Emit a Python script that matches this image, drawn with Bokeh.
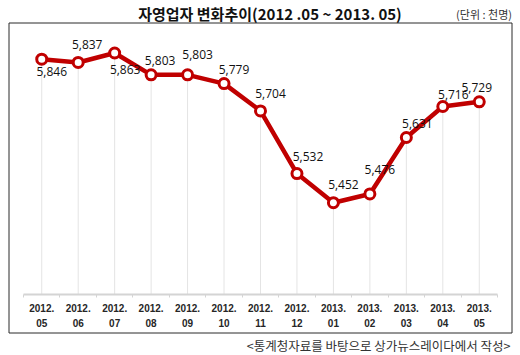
from bokeh.plotting import figure
from bokeh.models import Range1d, FixedTicker, Label, ColumnDataSource
from bokeh.core.properties import value
from bokeh.embed import file_html
from bokeh.resources import INLINE

# ---- data ----
months = ["2012.\n05", "2012.\n06", "2012.\n07", "2012.\n08", "2012.\n09", "2012.\n10",
          "2012.\n11", "2012.\n12", "2013.\n01", "2013.\n02", "2013.\n03", "2013.\n04", "2013.\n05"]
workers = [5846, 5837, 5863, 5803, 5803, 5779, 5704, 5532, 5452, 5476, 5631, 5716, 5729]
title_text = "자영업자 변화추이(2012 .05 ~ 2013. 05)"
unit_text = "(단위 : 천명)"
source_text = "<통계청자료를 바탕으로 상가뉴스레이다에서 작성>"
y_base = 5200
y_top = 5900

# ---- label offsets (style) ----
dx = [10, 9, 10.5, 9, 10, 10, 10, 11, 10, 10, 11, 10.5, -2.5]
dy = [12.5, -18, 17, -14, -20, -14, -17, -17.5, -18.5, -24, -13.5, -12.5, -14]

idx = list(range(len(months)))
RED = "#c00000"
W, H = 520, 355

# data area in page pixels: x 23..497, y 39..294
px_per_cat = 474 / len(months)
px_per_val = 255 / (y_top - y_base)


def xd(px):
    return -0.5 + (px - 23) / px_per_cat


def yd(py):
    return y_base + (294 - py) / px_per_val


p = figure(width=W, height=H, output_backend="svg", toolbar_location=None,
           x_range=Range1d(xd(0), xd(W)), y_range=Range1d(yd(H), yd(0)),
           min_border_left=0, min_border_right=0, min_border_top=0, min_border_bottom=0)
p.outline_line_color = None
p.background_fill_color = "white"
p.border_fill_color = "white"
p.grid.visible = False
p.yaxis.visible = False

# outer box
p.quad(left=[xd(8.5)], right=[xd(511.5)], top=[yd(22.5)], bottom=[yd(332.5)],
       fill_color=None, line_color="#2b2b2b", line_width=1)

src = ColumnDataSource(dict(x=idx, y=workers, base=[y_base] * len(idx),
                            lab=[f"{v:,}" for v in workers], dx=dx, dy=dy))

p.segment(x0="x", y0="base", x1="x", y1="y", source=src, line_color="#e4e4e4", line_width=1)
p.line("x", "y", source=src, line_color=RED, line_width=4.5, line_join="round")
p.scatter("x", "y", source=src, size=10, fill_color="white", line_color=RED, line_width=3)
p.text(x="x", y="y", text="lab", x_offset="dx", y_offset="dy", source=src,
       text_font=value("Open Sans"), text_font_size="12px", text_color="#111111",
       text_align="center", text_baseline="middle")

ax = p.xaxis[0]
ax.fixed_location = y_base
ax.bounds = (-0.5, len(months) - 0.5)
ax.ticker = FixedTicker(ticks=idx, minor_ticks=[i - 0.5 for i in range(len(months) + 1)])
ax.major_label_overrides = {i: m for i, m in enumerate(months)}
ax.axis_line_color = "#d4d4d4"
ax.axis_line_width = 2
ax.major_tick_line_color = None
ax.major_tick_out = 0
ax.major_tick_in = 0
ax.minor_tick_line_color = "#d4d4d4"
ax.minor_tick_out = 3
ax.minor_tick_in = 0
ax.major_label_standoff = 5
ax.major_label_text_font = "Liberation Sans"
ax.major_label_text_font_style = "bold"
ax.major_label_text_font_size = "10px"
ax.major_label_text_color = "#262626"
ax.major_label_text_line_height = 1.4

p.add_layout(Label(x=xd(269.5), y=yd(13), text=title_text,
                   text_font="Noto Sans CJK KR", text_font_style="bold", text_font_size="15px",
                   text_color="#111111", text_align="center", text_baseline="middle"))
p.add_layout(Label(x=xd(511.5), y=yd(13.5), text=unit_text,
                   text_font="Noto Sans CJK KR", text_font_size="11px",
                   text_color="#333333", text_align="right", text_baseline="middle"))
p.add_layout(Label(x=xd(510), y=yd(345), text=source_text,
                   text_font="Noto Sans CJK KR", text_font_size="12.5px",
                   text_color="#333333", text_align="right", text_baseline="middle"))

open("out.html", "w").write(file_html(p, INLINE))
